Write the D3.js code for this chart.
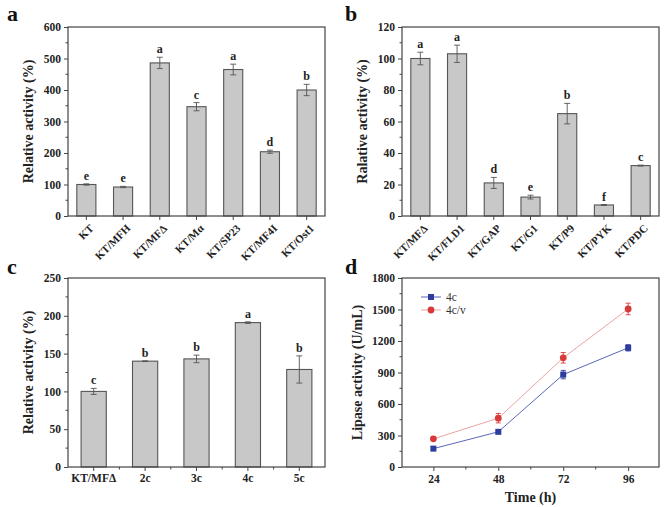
<!DOCTYPE html>
<html>
<head>
<meta charset="utf-8">
<script src="https://cdn.jsdelivr.net/npm/d3@7"></script>
<style>
  body { margin: 0; background: #fff; }
  svg { display: block; }
  text { font-family: "Liberation Serif", "Times New Roman", serif; }
</style>
</head>
<body>
<svg id="chart" width="667" height="507"></svg>
<script>
// panel a
const catsA = ["KT", "KT/MFH", "KT/MFΔ", "KT/Mα", "KT/SP23", "KT/MF4I", "KT/Ost1"];
const valsA = [100, 92, 486, 347, 465, 204, 400];
const errA = [2, 2, 18, 13, 17, 5, 18];
const sigA = ["e", "e", "a", "c", "a", "d", "b"];

// panel b
const catsB = ["KT/MFΔ", "KT/FLD1", "KT/GAP", "KT/G1", "KT/P9", "KT/PYK", "KT/PDC"];
const valsB = [100, 103, 21, 12, 65, 7, 32];
const errB = [4, 5.5, 3.5, 1.2, 6.5, 0.3, 0.3];
const sigB = ["a", "a", "d", "e", "b", "f", "c"];

// panel c
const catsC = ["KT/MFΔ", "2c", "3c", "4c", "5c"];
const valsC = [100, 140, 143, 191, 129];
const errC = [4, 0.5, 5, 1, 18];
const sigC = ["c", "b", "b", "a", "b"];

// panel d
const timesD = [24, 48, 72, 96];
const s4c = [175, 335, 880, 1135];
const e4c = [12, 12, 40, 30];
const s4cv = [268, 465, 1040, 1505];
const e4cv = [15, 45, 50, 55];

const svg = d3.select("#chart");
const axisColor = "#444";

function frame(g, w, h) {
    g.append("rect")
        .attr("width", w).attr("height", h)
        .attr("fill", "none")
        .attr("stroke", axisColor)
        .attr("stroke-width", 1.2);
}

function yAxis(g, y, ticks, minor) {
    const ax = g.append("g")
        .call(d3.axisLeft(y).tickValues(ticks).tickFormat(d3.format("d"))
            .tickSize(4).tickSizeOuter(0).tickPadding(3));
    ax.select(".domain").remove();
    ax.selectAll("line").attr("stroke", axisColor);
    ax.selectAll("text")
        .attr("font-size", 11.5).attr("font-weight", "bold")
        .attr("fill", "#222");
    g.append("g")
        .selectAll("line")
        .data(minor)
        .join("line")
        .attr("x1", 0).attr("x2", -2.5)
        .attr("y1", d => y(d)).attr("y2", d => y(d))
        .attr("stroke", axisColor);
}

function yLabel(g, text, x, h) {
    g.append("text")
        .attr("transform", `translate(${x},${h / 2}) rotate(-90)`)
        .attr("text-anchor", "middle")
        .attr("font-size", 14).attr("font-weight", "bold")
        .attr("fill", "#222")
        .text(text);
}

function barPanel(opt) {
    const w = opt.right - opt.left, h = opt.bottom - opt.top;
    const g = svg.append("g").attr("transform", `translate(${opt.left},${opt.top})`);

    const x = d3.scaleBand()
        .domain(opt.cats)
        .range([0, w])
        .paddingInner(opt.pad)
        .paddingOuter(opt.pad / 2);
    const y = d3.scaleLinear().domain([0, opt.ymax]).range([h, 0]);

    const data = opt.cats.map((c, i) => ({ c, v: opt.vals[i], e: opt.errs[i], s: opt.sig[i] }));

    g.append("g")
        .selectAll("rect")
        .data(data)
        .join("rect")
        .attr("x", d => x(d.c))
        .attr("y", d => y(d.v))
        .attr("width", x.bandwidth())
        .attr("height", d => h - y(d.v))
        .attr("fill", "#c8c8c8")
        .attr("stroke", "#555")
        .attr("stroke-width", 1.1);

    const eb = g.append("g").attr("stroke", "#555").attr("stroke-width", 0.9);
    const cx = d => x(d.c) + x.bandwidth() / 2;
    eb.selectAll(".v").data(data).join("line")
        .attr("x1", cx).attr("x2", cx)
        .attr("y1", d => y(d.v - d.e)).attr("y2", d => y(d.v + d.e));
    eb.selectAll(".t").data(data).join("line")
        .attr("x1", d => cx(d) - 3).attr("x2", d => cx(d) + 3)
        .attr("y1", d => y(d.v + d.e)).attr("y2", d => y(d.v + d.e));
    eb.selectAll(".b").data(data).join("line")
        .attr("x1", d => cx(d) - 3).attr("x2", d => cx(d) + 3)
        .attr("y1", d => y(d.v - d.e)).attr("y2", d => y(d.v - d.e));

    g.append("g")
        .selectAll("text")
        .data(data)
        .join("text")
        .attr("x", cx)
        .attr("y", d => y(d.v + d.e) - 4)
        .attr("text-anchor", "middle")
        .attr("font-size", 12).attr("font-weight", "bold")
        .attr("fill", "#222")
        .text(d => d.s);

    frame(g, w, h);
    yAxis(g, y, opt.ticks, opt.minor);
    yLabel(g, opt.ylabel, opt.ylabelX, h);

    // x ticks at bar centres
    const xa = g.append("g").attr("transform", `translate(0,${h})`);
    xa.selectAll("line")
        .data(data)
        .join("line")
        .attr("x1", cx).attr("x2", cx)
        .attr("y1", 0).attr("y2", 4)
        .attr("stroke", axisColor);
    if (opt.minorX) {
        xa.selectAll(".m")
            .data(data.slice(1))
            .join("line")
            .attr("x1", d => cx(d) - x.step() / 2).attr("x2", d => cx(d) - x.step() / 2)
            .attr("y1", 0).attr("y2", 2.5)
            .attr("stroke", axisColor);
    }
    if (opt.rotate) {
        xa.selectAll("text")
            .data(data)
            .join("text")
            .attr("transform", d => `translate(${cx(d) + 8},${13}) rotate(-45)`)
            .attr("text-anchor", "end")
            .attr("font-size", 11).attr("font-weight", "bold")
            .attr("fill", "#222")
            .text(d => d.c);
    } else {
        xa.selectAll("text")
            .data(data)
            .join("text")
            .attr("x", cx)
            .attr("y", 15)
            .attr("text-anchor", "middle")
            .attr("font-size", 11.5).attr("font-weight", "bold")
            .attr("fill", "#222")
            .text(d => d.c);
    }
}

function panelLetter(t, x, y) {
    svg.append("text")
        .attr("x", x).attr("y", y)
        .attr("font-size", 22).attr("font-weight", "bold")
        .attr("fill", "#111")
        .text(t);
}

barPanel({
    left: 68, right: 325, top: 27, bottom: 216,
    cats: catsA, vals: valsA, errs: errA, sig: sigA,
    pad: 0.48, ymax: 600,
    ticks: d3.range(0, 601, 100), minor: d3.range(50, 600, 100),
    ylabel: "Relative activity (%)", ylabelX: -35, rotate: true
});

barPanel({
    left: 402, right: 659, top: 27, bottom: 216,
    cats: catsB, vals: valsB, errs: errB, sig: sigB,
    pad: 0.48, ymax: 120,
    ticks: d3.range(0, 121, 20), minor: d3.range(10, 120, 20),
    ylabel: "Ralative activity (%)", ylabelX: -35, rotate: true
});

barPanel({
    left: 68, right: 325, top: 278, bottom: 467,
    cats: catsC, vals: valsC, errs: errC, sig: sigC,
    pad: 0.51, ymax: 250,
    ticks: d3.range(0, 251, 50), minor: d3.range(25, 250, 50),
    ylabel: "Relative activity (%)", ylabelX: -35, rotate: false, minorX: true
});

// panel d: line chart
(function () {
    const left = 402, right = 659, top = 278, bottom = 467;
    const w = right - left, h = bottom - top;
    const g = svg.append("g").attr("transform", `translate(${left},${top})`);
    const x = d3.scaleLinear().domain([12.4, 107.4]).range([0, w]);
    const y = d3.scaleLinear().domain([0, 1800]).range([h, 0]);

    frame(g, w, h);
    yAxis(g, y, d3.range(0, 1801, 300), d3.range(150, 1800, 300));
    yLabel(g, "Lipase activity (U/mL)", -40, h);

    const xa = g.append("g").attr("transform", `translate(0,${h})`)
        .call(d3.axisBottom(x).tickValues(timesD).tickSize(4).tickSizeOuter(0).tickPadding(4));
    xa.select(".domain").remove();
    xa.selectAll("line").attr("stroke", axisColor);
    xa.selectAll("text").attr("font-size", 11.5).attr("font-weight", "bold").attr("fill", "#222");
    g.append("g").attr("transform", `translate(0,${h})`)
        .selectAll("line")
        .data([36, 60, 84])
        .join("line")
        .attr("x1", d => x(d)).attr("x2", d => x(d))
        .attr("y1", 0).attr("y2", 2.5)
        .attr("stroke", axisColor);

    g.append("text")
        .attr("x", w / 2).attr("y", h + 35)
        .attr("text-anchor", "middle")
        .attr("font-size", 14).attr("font-weight", "bold")
        .attr("fill", "#222")
        .text("Time (h)");

    const series = [
        { name: "4c", vals: s4c, errs: e4c, line: "#5b66b8", mark: "#2e3c9e", shape: "square" },
        { name: "4c/v", vals: s4cv, errs: e4cv, line: "#eba4a4", mark: "#d83a3a", shape: "circle" }
    ];
    const line = d3.line().x(d => x(d.t)).y(d => y(d.v));

    series.forEach((s, si) => {
        const pts = timesD.map((t, i) => ({ t, v: s.vals[i], e: s.errs[i] }));
        g.append("path")
            .datum(pts)
            .attr("d", line)
            .attr("fill", "none")
            .attr("stroke", s.line)
            .attr("stroke-width", 1);
        const eg = g.append("g").attr("stroke", s.mark).attr("stroke-width", 0.9);
        eg.selectAll(".v").data(pts).join("line")
            .attr("x1", d => x(d.t)).attr("x2", d => x(d.t))
            .attr("y1", d => y(d.v - d.e)).attr("y2", d => y(d.v + d.e));
        [1, -1].forEach(sg => {
            eg.append("g").selectAll("line").data(pts).join("line")
                .attr("x1", d => x(d.t) - 2.5).attr("x2", d => x(d.t) + 2.5)
                .attr("y1", d => y(d.v + sg * d.e)).attr("y2", d => y(d.v + sg * d.e));
        });
        const mg = g.append("g").attr("fill", s.mark);
        if (s.shape === "square") {
            mg.selectAll("rect").data(pts).join("rect")
                .attr("x", d => x(d.t) - 3).attr("y", d => y(d.v) - 3)
                .attr("width", 6).attr("height", 6);
        } else {
            mg.selectAll("circle").data(pts).join("circle")
                .attr("cx", d => x(d.t)).attr("cy", d => y(d.v)).attr("r", 3.4);
        }

        // legend
        const ly = 19 + si * 13;
        g.append("line")
            .attr("x1", 19).attr("x2", 39).attr("y1", ly).attr("y2", ly)
            .attr("stroke", s.line).attr("stroke-width", 1);
        if (s.shape === "square") {
            g.append("rect").attr("x", 26).attr("y", ly - 3).attr("width", 6).attr("height", 6).attr("fill", s.mark);
        } else {
            g.append("circle").attr("cx", 29).attr("cy", ly).attr("r", 3.4).attr("fill", s.mark);
        }
        g.append("text")
            .attr("x", 44).attr("y", ly + 4)
            .attr("font-size", 11.5)
            .attr("fill", "#333")
            .text(s.name);
    });
})();

panelLetter("a", 7, 21);
panelLetter("b", 345, 21);
panelLetter("c", 7, 274);
panelLetter("d", 345, 274);
</script>
</body>
</html>
